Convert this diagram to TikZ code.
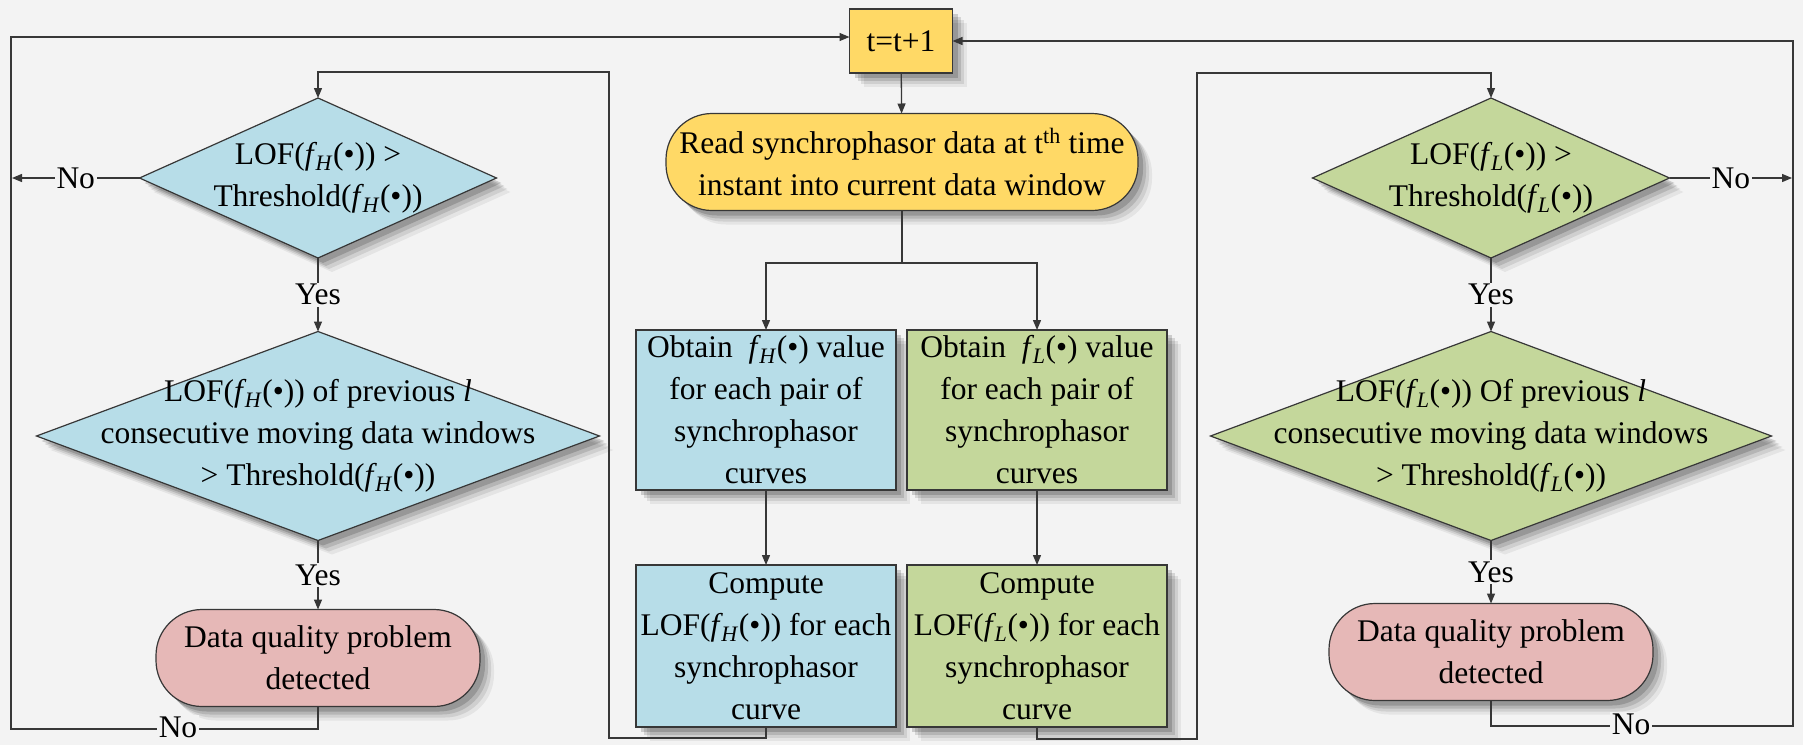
\documentclass[tikz,border=0pt]{standalone}
\usepackage{fontspec}
\setmainfont{Liberation Serif}
\usetikzlibrary{shapes.geometric,arrows.meta,shadows}
\definecolor{bgc}{RGB}{243,243,243}
\definecolor{cblue}{RGB}{183,221,232}
\definecolor{cgreen}{RGB}{196,215,155}
\definecolor{cyel}{RGB}{255,217,102}
\definecolor{cpink}{RGB}{230,184,183}
\definecolor{cline}{RGB}{55,55,55}
\newcommand{\fH}{\textit{f}\kern-1.5pt\textsubscript{\textit{H}}}
\newcommand{\fL}{\textit{f}\kern-1.5pt\textsubscript{\textit{L}}}
\newcommand{\bul}{(\textbullet)}
\begin{document}
\begin{tikzpicture}[x=1pt,y=-1pt,
  font=\fontsize{31.5}{42}\selectfont,
  shd/.style={
    drop shadow={shadow xshift=14pt,shadow yshift=-14pt,opacity=.06,fill=black},
    drop shadow={shadow xshift=11pt,shadow yshift=-11pt,opacity=.09,fill=black},
    drop shadow={shadow xshift=8pt,shadow yshift=-8pt,opacity=.12,fill=black},
    drop shadow={shadow xshift=5pt,shadow yshift=-5pt,opacity=.16,fill=black}},
  shapebase/.style={draw=cline,line width=1.2pt,inner sep=0pt,outer sep=0pt,align=center,shd},
  tbox/.style={shapebase,fill=cyel,minimum width=103pt,minimum height=64pt},
  pillY/.style={shapebase,fill=cyel,rounded corners=46pt,minimum width=472pt,minimum height=97pt},
  pillR/.style={shapebase,fill=cpink,rounded corners=46pt,minimum width=324pt,minimum height=97pt},
  rectH/.style={shapebase,fill=cblue,minimum width=260pt},
  rectL/.style={shapebase,fill=cgreen,minimum width=260pt},
  diaH/.style={shapebase,diamond,fill=cblue},
  diaL/.style={shapebase,diamond,fill=cgreen},
  txt/.style={align=center,inner sep=0pt},
  conn/.style={draw=cline,line width=1.3pt},
  arr/.style={conn,-{Triangle[length=10pt,width=8pt]}},
  lbl/.style={fill=bgc,inner sep=1.5pt}
]
\fill[bgc] (0,0) rectangle (1803,745);
\useasboundingbox (0,0) rectangle (1803,745);

% centre column
\node[tbox] (t) at (901,41) {t=t+1};
\node[pillY] (read) at (902,162) {Read synchrophasor data at t\textsuperscript{th} time\\instant into current data window};
\node[rectH,minimum height=160pt] (oH) at (766,410) {Obtain\ \ \fH\bul{} value\\for each pair of\\synchrophasor\\curves};
\node[rectL,minimum height=160pt] (oL) at (1037,410) {Obtain\ \ \fL\bul{} value\\for each pair of\\synchrophasor\\curves};
\node[rectH,minimum height=162pt] (cH) at (766,646) {Compute\\LOF(\fH\bul) for each\\synchrophasor\\curve};
\node[rectL,minimum height=162pt] (cL) at (1037,646) {Compute\\LOF(\fL\bul) for each\\synchrophasor\\curve};

% left column
\node[diaH,minimum width=357pt,minimum height=160pt] (d1) at (318,178) {};
\node[txt] (d1t) at (d1) {LOF(\fH\bul) >\\Threshold(\fH\bul)};
\node[diaH,minimum width=563pt,minimum height=209pt] (d2) at (318,436) {};
\node[txt] (d2t) at (d2) {LOF(\fH\bul) of previous \textit{l}\\consecutive moving data windows\\> Threshold(\fH\bul)};
\node[pillR] (q1) at (318,658) {Data quality problem\\detected};

% right column
\node[diaL,minimum width=357pt,minimum height=160pt] (d3) at (1491,178) {};
\node[txt] (d3t) at (d3) {LOF(\fL\bul) >\\Threshold(\fL\bul)};
\node[diaL,minimum width=561pt,minimum height=209pt] (d4) at (1491,436) {};
\node[txt] (d4t) at (d4) {LOF(\fL\bul) Of previous \textit{l}\\consecutive moving data windows\\> Threshold(\fL\bul)};
\node[pillR] (q2) at (1491,652) {Data quality problem\\detected};

% helper coordinates
\coordinate (lb) at (11,729);
\coordinate (lt) at (11,37);
\coordinate (rb) at (1793,726);
\coordinate (rt) at (1793,41);
\coordinate (ilb) at (609,738);
\coordinate (ilt) at (609,72);
\coordinate (irb) at (1197,739);
\coordinate (irt) at (1197,73);
\coordinate (sp) at (902,263);
\coordinate (n1) at (12,178);
\coordinate (n3) at (1792,178);

% centre connectors
\draw[arr] (t) -- (read);
\draw[conn] (read.south) -- (sp);
\draw[arr] (sp) -| (oH.north);
\draw[arr] (sp) -| (oL.north);
\draw[arr] (oH) -- (cH);
\draw[arr] (oL) -- (cL);
\draw[arr] (cH.south) |- (ilb) -- (ilt) -| (d1.north);
\draw[arr] (cL.south) |- (irb) -- (irt) -| (d3.north);

% left connectors
\draw[arr] (d1.west) -- node[lbl] (no1) {No} (n1);
\draw[arr] (d1.south) -- node[lbl] (yes1) {Yes} (d2.north);
\draw[arr] (d2.south) -- node[lbl] (yes2) {Yes} (q1.north);
\draw[arr] (q1.south) |- (lb) -- (lt) -- (t.west |- lt);
\node[lbl] (no2) at (178,727) {No};

% right connectors
\draw[arr] (d3.east) -- node[lbl] (no3) {No} (n3);
\draw[arr] (d3.south) -- node[lbl] (yes3) {Yes} (d4.north);
\draw[arr] (d4.south) -- node[lbl] (yes4) {Yes} (q2.north);
\draw[arr] (q2.south) |- (rb) -- (rt) -- (t.east |- rt);
\node[lbl] (no4) at (1631,724) {No};
\end{tikzpicture}
\end{document}
